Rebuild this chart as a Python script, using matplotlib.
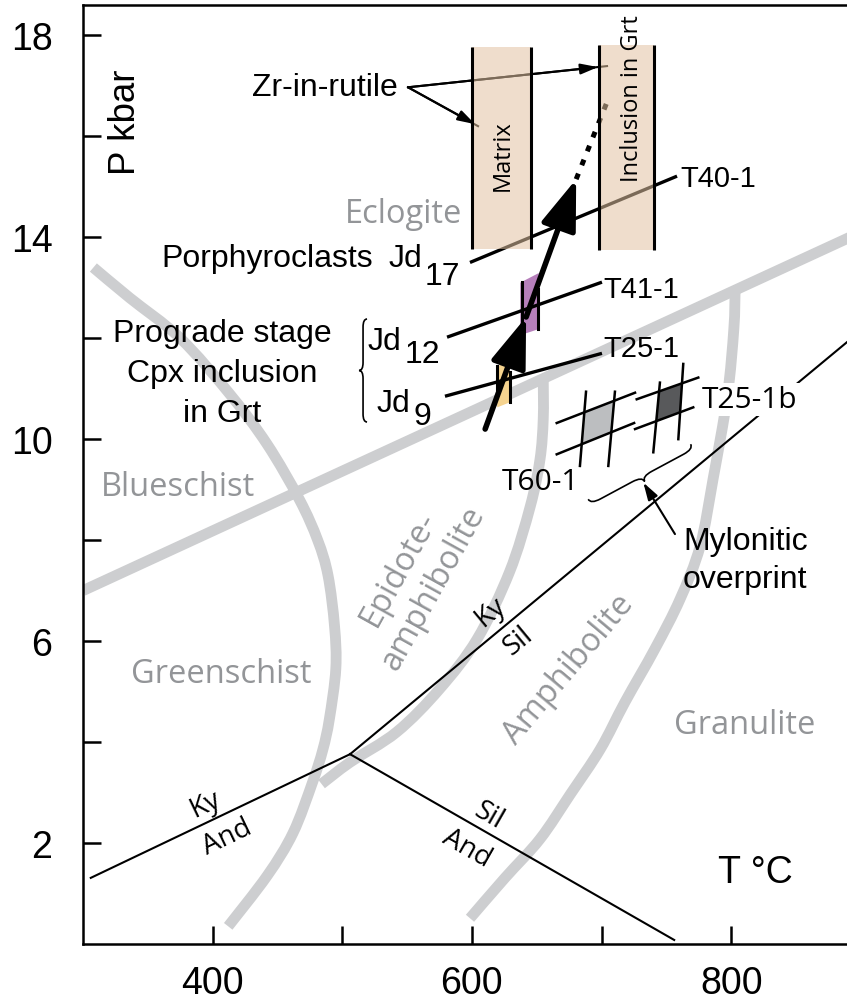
import numpy as np
import matplotlib
matplotlib.use("Agg")
import matplotlib.pyplot as plt
from matplotlib.path import Path
from matplotlib.patches import PathPatch, Polygon, Rectangle

plt.rcParams['font.family'] = ['Liberation Sans', 'DejaVu Sans']
HUMANIST = ['Open Sans', 'DejaVu Sans']

# ---------------- axis ranges and ticks ----------------
T_LIM = (300, 889.3)
P_LIM = (0, 18.6)
T_MAJOR = [400, 600, 800]
T_MINOR = [500, 700]
P_MAJOR = [2, 6, 10, 14, 18]
P_MINOR = [4, 8, 12, 16]

# ---------------- metamorphic facies boundaries (T degC, P kbar) ----------------
blueschist_T = [300, 900]
blueschist_P = [7.0, 14.1]
greenschist_T = [308, 336, 375, 413, 442, 467, 481, 489, 494, 495, 490, 485, 477, 462, 442, 412]
greenschist_P = [13.4, 12.8, 12.0, 10.9, 9.9, 8.8, 8.0, 7.3, 6.3, 5.45, 4.45, 3.85, 3.2, 2.2, 1.35, 0.35]
epamph_T = [655, 655, 652.5, 645, 629, 604, 575, 542, 506, 484]
epamph_P = [11.2, 10.4, 9.6, 8.67, 7.37, 6.04, 5.05, 4.2, 3.6, 3.17]
granulite_T = [803, 802, 797, 786, 776, 760.5, 741, 718, 699, 676, 652.5, 625.5, 598.5]
granulite_P = [12.95, 12.18, 10.85, 9.21, 7.88, 6.83, 5.84, 4.79, 3.86, 2.97, 2.08, 1.31, 0.51]

# ---------------- Al2SiO5 phase diagram ----------------
TRIPLE = (506, 3.76)
KY_SIL_END = (900, 12.15)
KY_AND_END = (306, 1.31)
SIL_AND_END = (756, 0.08)

# ---------------- jadeite isopleths of the samples ----------------
iso_T40_T = [598.5, 758.2]
iso_T40_P = [13.50, 15.21]
iso_T41_T = [580.8, 700.3]
iso_T41_P = [12.02, 13.11]
iso_T25_T = [579.2, 700.3]
iso_T25_P = [10.85, 11.70]

# ---------------- Zr-in-rutile temperature windows ----------------
matrix_T = [600.0, 645.5]
matrix_P = [13.76, 17.76]
incl_T = [698.0, 740.4]
incl_P = [13.74, 17.80]

# ---------------- Cpx-inclusion intersection fields ----------------
jd12_T = [637.3, 651.5]
jd12_P_left = [12.06, 13.10]
jd12_P_right = [12.18, 13.29]
jd9_T = [619.5, 629.3]
jd9_P_left = [10.63, 11.45]
jd9_P_right = [10.73, 11.52]
jd12_ticks_T = [638.4, 651.2]
jd12_ticks_P = [[12.18, 13.12], [12.18, 12.97]]
jd9_ticks_T = [619.0, 629.3]
jd9_ticks_P = [[10.99, 11.45], [10.73, 11.33]]

# ---------------- prograde P-T path ----------------
path_T = [610.2, 641.8, 680.4]
path_P = [10.2, 12.42, 15.15]
path_ext_T = [680.4, 705.0]
path_ext_P = [15.15, 16.73]

# ---------------- mylonitic overprint grids ----------------
t60_sloped = [[(665.4, 10.32), (725.8, 10.92)], [(665.4, 9.70), (725.1, 10.32)]]
t60_steep = [[(688.0, 10.94), (683.3, 9.47)], [(710.3, 10.94), (705.2, 9.47)]]
t25b_sloped = [[(727.1, 10.79), (774.6, 11.22)], [(725.8, 10.20), (770.7, 10.63)]]
t25b_steep = [[(745.0, 11.12), (739.9, 9.74)], [(763.0, 11.49), (759.2, 10.00)]]

BAND = '#cdced0'
GRAY_TXT = '#939598'
TAN = '#e2c2a2'

fig = plt.figure(figsize=(8.47, 10.03), dpi=100)
ax = fig.add_axes([83 / 847, 58 / 1003, 764 / 847, 939 / 1003])
ax.set_xlim(*T_LIM)
ax.set_ylim(*P_LIM)

for side in ['left', 'bottom', 'top']:
    ax.spines[side].set_linewidth(1.8)
ax.spines['right'].set_visible(False)
ax.set_xticks(T_MAJOR)
ax.set_xticks(T_MINOR, minor=True)
ax.set_yticks(P_MAJOR)
ax.set_yticks(P_MINOR, minor=True)
ax.tick_params(which='both', direction='in', length=13, width=1.8, top=False, right=False)
ax.tick_params(axis='x', which='major', labelsize=27, pad=15)
ax.tick_params(axis='y', which='major', labelsize=27, pad=22)

tr = ax.transData


def screen_angle(p0, p1):
    a = tr.transform(p0)
    b = tr.transform(p1)
    return np.degrees(np.arctan2(b[1] - a[1], b[0] - a[0]))


def smooth_band(T, P, **kw):
    """Draw a smooth curve through the given points (Catmull-Rom as cubic Bezier)."""
    pts = np.column_stack([T, P]).astype(float)
    ext = np.vstack([pts[0], pts, pts[-1]])
    verts = [pts[0]]
    codes = [Path.MOVETO]
    for i in range(1, len(ext) - 2):
        p0, p1, p2, p3 = ext[i - 1], ext[i], ext[i + 1], ext[i + 2]
        verts += [p1 + (p2 - p0) / 6.0, p2 - (p3 - p1) / 6.0, p2]
        codes += [Path.CURVE4] * 3
    ax.add_patch(PathPatch(Path(verts, codes), fill=False, **kw))


def brace(p0, p1, depth, lw=1.2):
    """Curly brace from p0 to p1 (data), tip bulging to the right of p0->p1 on screen."""
    a = tr.transform(p0)
    b = tr.transform(p1)
    u = b - a
    L = np.hypot(*u)
    u = u / L
    n = np.array([u[1], -u[0]])
    h = depth / 2.0
    r = min(depth, L / 4.0)
    local = [(0, 0), (0, h), (r, h), (L / 2 - r, h), (L / 2, h), (L / 2, depth),
             (L / 2, h), (L / 2 + r, h), (L - r, h), (L, h), (L, 0)]
    codes = [Path.MOVETO, Path.CURVE3, Path.CURVE3, Path.LINETO, Path.CURVE3, Path.CURVE3,
             Path.CURVE3, Path.CURVE3, Path.LINETO, Path.CURVE3, Path.CURVE3]
    disp = np.array([a + s * u + t * n for s, t in local])
    pts = tr.inverted().transform(disp)
    ax.add_patch(PathPatch(Path(pts, codes), fill=False, lw=lw, color='k', zorder=4))


def arrow(tail, tip, lw, hl, hw, z=4):
    ax.annotate('', xy=tip, xytext=tail, zorder=z,
                arrowprops=dict(arrowstyle=f'-|>,head_length={hl},head_width={hw}',
                                lw=lw, color='k', shrinkA=0, shrinkB=0, mutation_scale=1))


def intersect(l1, l2):
    (x1, y1), (x2, y2) = l1
    (x3, y3), (x4, y4) = l2
    d = (x1 - x2) * (y3 - y4) - (y1 - y2) * (x3 - x4)
    px = ((x1 * y2 - y1 * x2) * (x3 - x4) - (x1 - x2) * (x3 * y4 - y3 * x4)) / d
    py = ((x1 * y2 - y1 * x2) * (y3 - y4) - (y1 - y2) * (x3 * y4 - y3 * x4)) / d
    return px, py


# facies bands
band_kw = dict(color=BAND, lw=7.8, capstyle='butt', joinstyle='round', zorder=1)
smooth_band(blueschist_T, blueschist_P, **band_kw)
smooth_band(greenschist_T, greenschist_P, **band_kw)
smooth_band(epamph_T, epamph_P, **band_kw)
smooth_band(granulite_T, granulite_P, **band_kw)

# facies names
gkw = dict(color=GRAY_TXT, fontsize=23.5, family=HUMANIST, zorder=2)
ax.text(547.6, 14.30, 'Eclogite', ha='center', va='baseline', **gkw)
ax.text(372.9, 8.89, 'Blueschist', ha='center', va='baseline', **gkw)
ax.text(406.4, 5.19, 'Greenschist', ha='center', va='baseline', **gkw)
ax.text(810.2, 4.18, 'Granulite', ha='center', va='baseline', **gkw)
ax.text(556.6, 7.26, 'Epidote-\namphibolite', ha='center', va='center', rotation=61,
        rotation_mode='anchor', multialignment='center', linespacing=1.25, **gkw)
ax.text(674.9, 5.45, 'Amphibolite', ha='center', va='center', rotation=50,
        rotation_mode='anchor', **gkw)

# Al2SiO5 reactions
al_kw = dict(color='k', lw=1.5, zorder=3)
ax.plot([TRIPLE[0], KY_SIL_END[0]], [TRIPLE[1], KY_SIL_END[1]], **al_kw)
ax.plot([TRIPLE[0], KY_AND_END[0]], [TRIPLE[1], KY_AND_END[1]], **al_kw)
ax.plot([TRIPLE[0], SIL_AND_END[0]], [TRIPLE[1], SIL_AND_END[1]], **al_kw)
a_ks = screen_angle(TRIPLE, KY_SIL_END)
a_ka = screen_angle(KY_AND_END, TRIPLE)
a_sa = screen_angle(TRIPLE, SIL_AND_END)
mkw = dict(fontsize=20, family=HUMANIST, ha='center', va='center', rotation_mode='anchor', zorder=3)
ax.text(613.9, 6.59, 'Ky', rotation=a_ks, **mkw)
ax.text(635.5, 6.02, 'Sil', rotation=a_ks, **mkw)
ax.text(394.1, 2.77, 'Ky', rotation=a_ka, **mkw)
ax.text(411.1, 2.12, 'And', rotation=a_ka, **mkw)
ax.text(613.2, 2.55, 'Sil', rotation=a_sa, **mkw)
ax.text(596.2, 1.90, 'And', rotation=a_sa, **mkw)

# intersection fields of Cpx inclusions
ax.add_patch(Polygon([(jd12_T[0], jd12_P_left[0]), (jd12_T[0], jd12_P_left[1]),
                      (jd12_T[1], jd12_P_right[1]), (jd12_T[1], jd12_P_right[0])],
                     closed=True, fc='#b67fbb', ec='none', zorder=3))
ax.add_patch(Polygon([(jd9_T[0], jd9_P_left[0]), (jd9_T[0], jd9_P_left[1]),
                      (jd9_T[1], jd9_P_right[1]), (jd9_T[1], jd9_P_right[0])],
                     closed=True, fc='#f5d38f', ec='none', zorder=3))
for t, pr in zip(jd12_ticks_T + jd9_ticks_T, jd12_ticks_P + jd9_ticks_P):
    ax.plot([t, t], pr, color='k', lw=2.2, zorder=3.5)

# isopleth lines
iso_kw = dict(color='k', lw=2.4, zorder=4, solid_capstyle='butt')
ax.plot(iso_T40_T, iso_T40_P, **iso_kw)
ax.plot(iso_T41_T, iso_T41_P, **iso_kw)
ax.plot(iso_T25_T, iso_T25_P, **iso_kw)

# mylonitic grids
for sloped, steep, fc in [(t60_sloped, t60_steep, '#bcbec0'), (t25b_sloped, t25b_steep, '#58595b')]:
    quad = [intersect(sloped[0], steep[0]), intersect(sloped[0], steep[1]),
            intersect(sloped[1], steep[1]), intersect(sloped[1], steep[0])]
    ax.add_patch(Polygon(quad, closed=True, fc=fc, ec='none', zorder=3))
    for seg in sloped + steep:
        ax.plot([seg[0][0], seg[1][0]], [seg[0][1], seg[1][1]], color='k', lw=1.8, zorder=4)
brace((689.7, 8.81), (768.7, 9.90), 11)
arrow((756.6, 8.12), (732.2, 9.14), 1.5, 10.5, 3.2)

# P-T path
arrow((path_T[0], path_P[0]), (path_T[1], path_P[1]), 4, 31, 11)
arrow((path_T[1], path_P[1]), (path_T[2], path_P[2]), 4, 31, 11)
ax.plot(path_ext_T, path_ext_P, color='k', lw=3.6, ls=(0, (1.2, 1.8)),
        dash_capstyle='butt', zorder=4)

# Zr-in-rutile arrows
ax.plot([550.7, 604.7], [16.97, 16.20], color='k', lw=1.5, zorder=4)
ax.plot([550.7, 704.2], [16.97, 17.39], color='k', lw=1.5, zorder=4)
arrow((550.7, 16.97), (602.4, 16.24), 1.5, 10.5, 3.2)
arrow((550.7, 16.97), (697.2, 17.37), 1.5, 10.5, 3.2)

# Zr-in-rutile windows
for tr_, pr_ in [(matrix_T, matrix_P), (incl_T, incl_P)]:
    ax.add_patch(Rectangle((tr_[0], pr_[0]), tr_[1] - tr_[0], pr_[1] - pr_[0],
                           fc=TAN, ec='none', alpha=0.55, zorder=5))
    for t in tr_:
        ax.plot([t, t], pr_, color='k', lw=2.2, zorder=6, solid_capstyle='butt')
ax.text(623.6, 15.64, 'Matrix', rotation=90, ha='center', va='center', fontsize=17,
        family=HUMANIST, zorder=7)
ax.text(723.1, 16.77, 'Inclusion in Grt', rotation=90, ha='center', va='center', fontsize=17,
        family=HUMANIST, zorder=7)

# black annotations
bkw = dict(fontsize=23, color='k', zorder=7)
ax.text(542.9, 16.97, 'Zr-in-rutile', ha='right', va='center', **bkw)
ax.text(523.7, 13.43, 'Porphyroclasts', ha='right', va='baseline', **bkw)
ax.text(535.3, 13.43, 'Jd', ha='left', va='baseline', **bkw)
ax.text(563.8, 13.07, '17', ha='left', va='baseline', **bkw)
ax.text(407.2, 11.94, 'Prograde stage', ha='center', va='baseline', **bkw)
ax.text(407.2, 11.15, 'Cpx inclusion', ha='center', va='baseline', **bkw)
ax.text(407.2, 10.36, 'in Grt', ha='center', va='baseline', **bkw)
ax.text(519.8, 11.78, 'Jd', ha='left', va='baseline', **bkw)
ax.text(548.4, 11.52, '12', ha='left', va='baseline', **bkw)
ax.text(526.5, 10.55, 'Jd', ha='left', va='baseline', **bkw)
ax.text(554.8, 10.30, '9', ha='left', va='baseline', **bkw)
brace((519.1, 12.38), (519.1, 10.34), 8)

skw = dict(fontsize=21, color='k', zorder=7, ha='left', va='baseline')
ax.text(760.5, 15.01, 'T40-1', **skw)
ax.text(701.1, 12.81, 'T41-1', **skw)
ax.text(701.1, 11.64, 'T25-1', **skw)
ax.text(777.4, 10.63, 'T25-1b', family=HUMANIST, fontsize=21.5, color='k', zorder=7,
        ha='left', va='baseline', bbox=dict(fc='white', ec='none', pad=1.5))
ax.text(623.2, 9.01, 'T60-1', family=HUMANIST, fontsize=21.5, color='k', zorder=7,
        ha='left', va='baseline')
ax.text(762.8, 7.82, 'Mylonitic', **bkw, ha='left', va='baseline')
ax.text(762.8, 7.07, 'overprint', **bkw, ha='left', va='baseline')

# axis titles
ax.text(332.4, 16.3, 'P kbar', rotation=90, ha='center', va='center', fontsize=26.5)
ax.text(818.7, 1.23, 'T °C', ha='center', va='baseline', fontsize=27)

fig.savefig('out.png', dpi=100)
